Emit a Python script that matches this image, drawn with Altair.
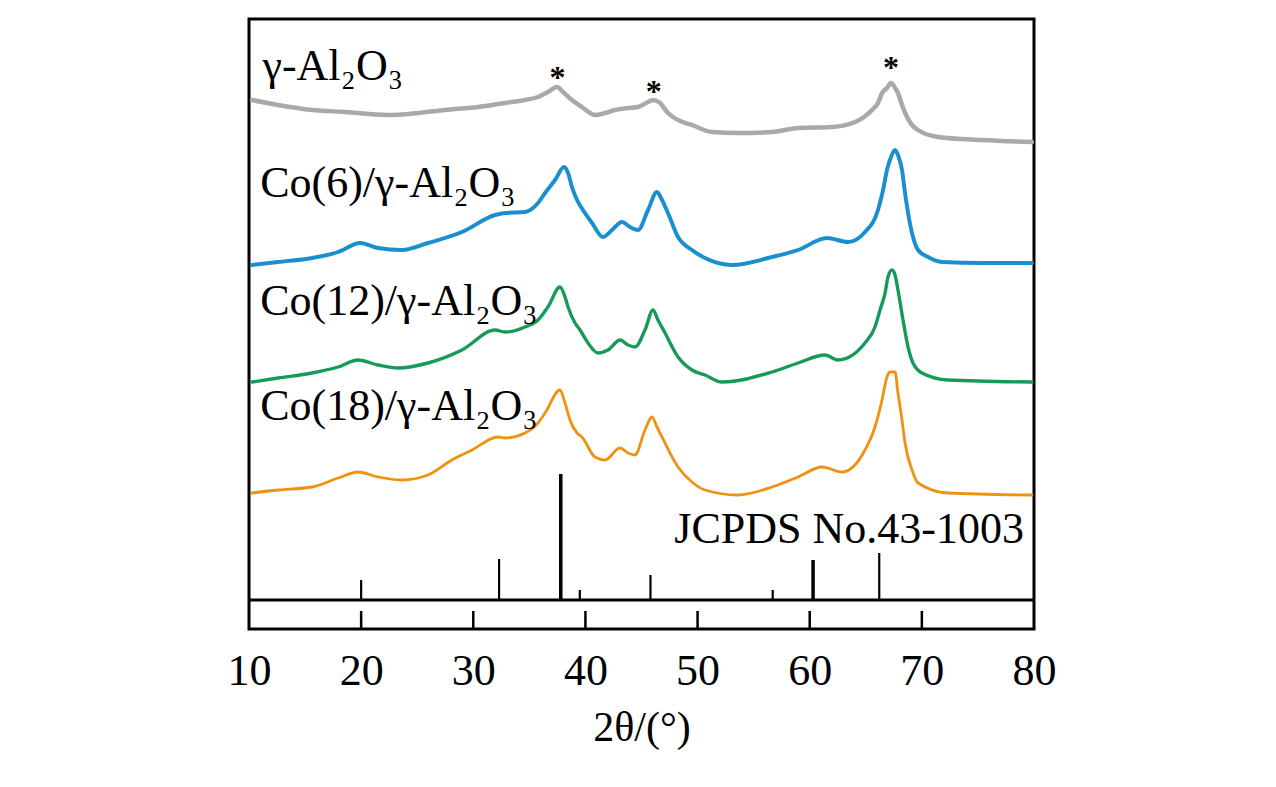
import altair as alt
import pandas as pd

# ---------------- data ----------------
series_names = ["γ-Al₂O₃", "Co(6)/γ-Al₂O₃", "Co(12)/γ-Al₂O₃", "Co(18)/γ-Al₂O₃"]
series_colors = ["#a9a9a9", "#1a8fd0", "#169a5a", "#f0920f"]

gray_theta = [10.27, 12.59, 15.62, 18.56, 22.40, 25.07, 27.48, 30.42, 32.83, 34.61, 35.77, 36.66,
              37.47, 38.00, 38.80, 39.69, 40.85, 41.75, 42.64, 43.80, 44.69, 45.58, 46.03, 46.65,
              47.36, 48.26, 49.50, 51.29, 53.61, 56.64, 58.96, 61.99, 64.04, 65.56, 66.09, 66.45,
              66.89, 67.25, 67.61, 67.87, 68.23, 68.68, 69.12, 69.66, 71.44, 75.36, 79.82]
gray_int = [529, 524, 519, 517, 514, 516, 519, 522, 526, 529, 532, 537,
            542, 537, 529, 522, 514, 516, 519, 521, 522, 527, 529, 526,
            516, 509, 504, 497, 496, 497, 501, 502, 507, 519, 526, 536,
            541, 546, 541, 536, 524, 512, 504, 499, 492, 489, 487]

blue_theta = [10.27, 12.59, 15.62, 17.94, 19.90, 21.50, 23.64, 25.96, 28.99, 31.94, 32.83, 34.61,
              35.77, 36.40, 37.29, 38.09, 38.45, 38.80, 39.25, 39.78, 40.59, 41.57, 42.37, 43.26,
              43.97, 44.69, 45.58, 46.38, 46.83, 47.36, 48.26, 49.50, 50.66, 53.07, 56.64, 58.96,
              61.54, 63.42, 64.93, 66.09, 66.54, 66.89, 67.25, 67.61, 67.87, 68.23, 68.50, 68.77,
              69.21, 69.66, 70.55, 71.80, 75.36, 79.82]
blue_int = [364, 367, 371, 377, 386, 381, 379, 386, 397, 414, 416, 417,
            426, 436, 449, 462, 456, 442, 429, 419, 406, 392, 399, 407,
            402, 399, 419, 437, 429, 416, 392, 379, 371, 364, 372, 379,
            391, 387, 397, 419, 439, 459, 472, 479, 474, 459, 436, 416,
            392, 379, 372, 367, 366, 366]

green_theta = [10.27, 12.59, 15.62, 17.94, 19.72, 21.50, 23.29, 25.96, 28.99, 31.94, 32.83, 34.61,
               35.77, 36.66, 37.73, 38.18, 38.45, 39.07, 39.52, 40.23, 41.12, 42.01, 43.08, 43.80,
               44.42, 45.31, 46.03, 46.47, 47.10, 48.26, 49.50, 50.66, 52.18, 56.64, 58.96, 61.36,
               62.52, 64.93, 65.82, 66.27, 66.72, 66.98, 67.34, 67.61, 67.87, 68.32, 68.77, 69.21,
               70.01, 72.33, 79.82]
green_int = [247, 251, 256, 262, 269, 264, 261, 266, 279, 299, 297, 302,
             309, 322, 342, 332, 322, 306, 299, 286, 276, 279, 289, 284,
             282, 299, 319, 309, 296, 272, 259, 254, 247, 257, 266, 274,
             269, 286, 302, 319, 336, 352, 359, 354, 339, 309, 282, 266,
             256, 249, 247]

orange_theta = [10.27, 12.59, 15.62, 17.94, 19.72, 21.50, 23.64, 25.96, 28.10, 29.89, 32.20, 32.83,
                34.61, 35.77, 36.40, 37.73, 38.18, 38.62, 39.25, 39.69, 40.85, 41.75, 43.08, 43.80,
                44.42, 45.31, 45.94, 46.38, 46.83, 48.26, 49.50, 50.66, 53.61, 56.64, 58.96, 61.10,
                62.88, 64.93, 65.82, 66.45, 66.89, 67.16, 67.61, 67.87, 68.23, 68.50, 69.12, 69.66,
                72.33, 79.82]
orange_int = [136, 139, 142, 151, 157, 152, 149, 154, 169, 179, 192, 191,
              196, 206, 216, 239, 226, 209, 196, 192, 172, 169, 181, 176,
              174, 199, 212, 202, 192, 162, 147, 139, 134, 142, 152, 162,
              157, 179, 202, 229, 252, 257, 257, 236, 209, 186, 159, 146,
              136, 134]

# JCPDS No.43-1003 reference lines
stick_theta = [20.0, 32.3, 37.8, 39.5, 45.8, 56.7, 60.3, 66.2]
stick_top = [49, 70, 155, 39, 54, 39, 69, 76]
stick_strong = [False, False, True, False, False, False, True, False]
stick_base = 29

# peak markers
star_theta = [37.5, 46.1, 67.25]
star_int = [541, 527, 551]

# curve labels
label_theta = [11.2, 11.0, 11.0, 11.0]
label_int = [549, 432, 314, 209]

tick_values = [10, 20, 30, 40, 50, 60, 70, 80]
inner_ticks = [20, 30, 40, 50, 60, 70]
inner_tick_len = 18

# ---------------- build tables ----------------
rows = []
for name, th, iv in zip(series_names, [gray_theta, blue_theta, green_theta, orange_theta],
                        [gray_int, blue_int, green_int, orange_int]):
    for t, v in zip(th, iv):
        rows.append({"series": name, "theta": t, "v": v})
curves = pd.DataFrame(rows)
sticks = pd.DataFrame({"theta": stick_theta, "v": [stick_base] * len(stick_theta),
                       "v2": stick_top, "strong": stick_strong})
stars = pd.DataFrame({"theta": star_theta, "v": star_int, "t": ["*"] * len(star_theta)})
labels = pd.DataFrame({"theta": label_theta, "v": label_int, "t": series_names})
ticks_df = pd.DataFrame({"theta": inner_ticks, "v": [0] * len(inner_ticks),
                         "v2": [inner_tick_len] * len(inner_ticks)})
jc = pd.DataFrame({"theta": [79.1], "v": [86], "t": ["JCPDS No.43-1003"]})
base_line = pd.DataFrame({"v": [stick_base]})

FONT = "Liberation Serif"
xs = alt.Scale(domain=[10, 80], nice=False, zero=False)
ys = alt.Scale(domain=[0, 610], nice=False, zero=False)
xaxis = alt.Axis(values=tick_values, format="d", title="2θ/(°)", domain=False, ticks=False,
                 grid=False, labelFont=FONT, labelFontSize=44, labelColor="black",
                 labelPadding=20, labelFlush=False, labelOverlap=False,
                 titleFont=FONT, titleFontSize=42, titleFontWeight="normal",
                 titleColor="black", titlePadding=14)


def X():
    return alt.X("theta:Q", scale=xs, axis=xaxis)


def Y():
    return alt.Y("v:Q", scale=ys, axis=None)


lines = alt.Chart(curves).mark_line(strokeJoin="round", strokeCap="round", interpolate="monotone").encode(
    x=X(),
    y=Y(),
    color=alt.Color("series:N", scale=alt.Scale(domain=series_names, range=series_colors), legend=None),
    strokeWidth=alt.StrokeWidth("series:N", scale=alt.Scale(domain=series_names, range=[4.5, 2.8, 2.8, 2.8]),
                                legend=None),
    detail="series:N",
)

stick_layer = alt.Chart(sticks).mark_rule(color="black").encode(
    x=X(),
    y=Y(),
    y2="v2:Q",
    strokeWidth=alt.condition(alt.datum.strong, alt.value(3.5), alt.value(2.2)),
)

base_rule = alt.Chart(base_line).mark_rule(color="black", strokeWidth=3).encode(y=Y())

tick_layer = alt.Chart(ticks_df).mark_rule(color="black", strokeWidth=2.5).encode(
    x=X(), y=Y(), y2="v2:Q"
)

star_layer = alt.Chart(stars).mark_text(font=FONT, fontSize=32, fontWeight="bold", color="black",
                                        baseline="alphabetic", align="center").encode(
    x=X(), y=Y(), text="t:N"
)

label_layer = alt.Chart(labels).mark_text(font=FONT, fontSize=44, color="black",
                                          baseline="alphabetic", align="left").encode(
    x=X(), y=Y(), text="t:N"
)

jc_layer = alt.Chart(jc).mark_text(font=FONT, fontSize=44, color="black",
                                   baseline="alphabetic", align="right").encode(
    x=X(), y=Y(), text="t:N"
)

chart = alt.layer(lines, stick_layer, base_rule, tick_layer, star_layer, label_layer, jc_layer).properties(
    width=785, height=610,
    padding={"left": 241, "top": 11, "right": 200, "bottom": 150},
    autosize=alt.AutoSizeParams(type="none"),
).configure_view(stroke="black", strokeWidth=3)

chart.save("out.html", embed_options={"renderer": "svg", "actions": False})
